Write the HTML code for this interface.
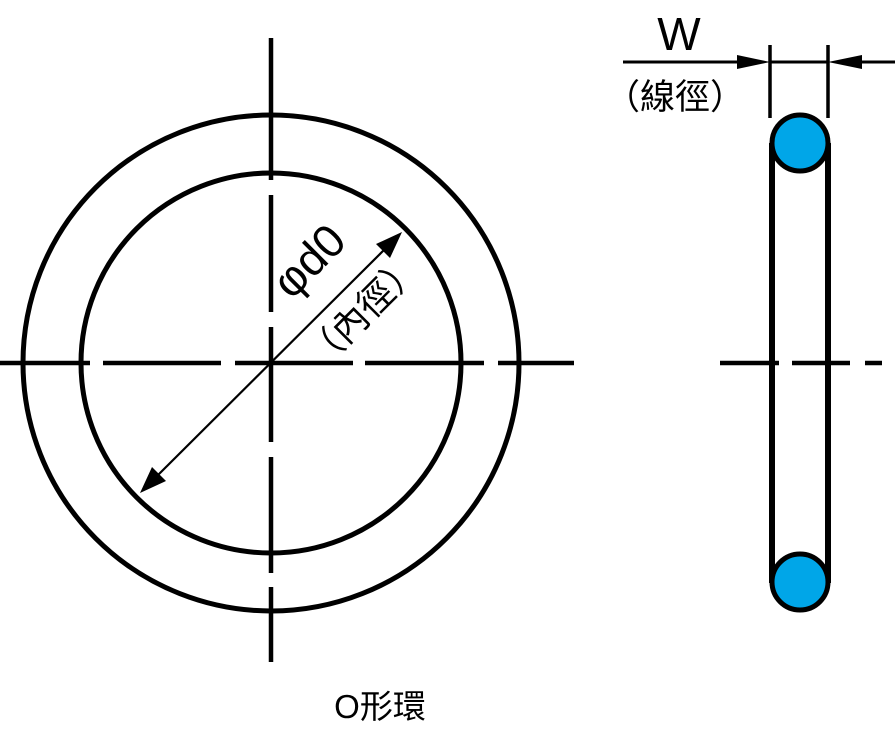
<!DOCTYPE html>
<html><head><meta charset="utf-8"><style>
html,body{margin:0;padding:0;background:#fff;}
svg{display:block;}
text{font-family:"Liberation Sans","Noto Sans CJK TC",sans-serif;}
</style></head><body>
<svg width="895" height="731" viewBox="0 0 895 731" xmlns="http://www.w3.org/2000/svg">
<g fill="none" stroke="#000">
<circle cx="271" cy="363" r="248" stroke-width="5"/>
<circle cx="271" cy="363" r="190" stroke-width="5"/>
<g stroke-width="4.5">
<line x1="0" y1="363" x2="90" y2="363"/>
<line x1="103" y1="363" x2="221" y2="363"/>
<line x1="235" y1="363" x2="353" y2="363"/>
<line x1="365" y1="363" x2="484" y2="363"/>
<line x1="498" y1="363" x2="574" y2="363"/>
<line x1="271" y1="38" x2="271" y2="180"/>
<line x1="271" y1="195" x2="271" y2="312"/>
<line x1="271" y1="327" x2="271" y2="442"/>
<line x1="271" y1="457" x2="271" y2="573"/>
<line x1="271" y1="587" x2="271" y2="662"/>
<line x1="720" y1="363" x2="779" y2="363"/>
<line x1="792" y1="363" x2="850" y2="363"/>
<line x1="865" y1="363" x2="882" y2="363"/>
</g>
<line x1="155" y1="478" x2="388" y2="246" stroke-width="2.2"/>
<line x1="772" y1="143" x2="772" y2="583" stroke-width="6"/>
<line x1="828" y1="143" x2="828" y2="583" stroke-width="6"/>
<line x1="770" y1="45" x2="770" y2="118" stroke-width="3.5"/>
<line x1="828" y1="45" x2="828" y2="118" stroke-width="3.5"/>
<line x1="623" y1="62" x2="745" y2="62" stroke-width="3"/>
<line x1="770" y1="62" x2="828" y2="62" stroke-width="3"/>
<line x1="855" y1="62" x2="895" y2="62" stroke-width="3"/>
</g>
<polygon points="402,232 390,258 376,244" fill="#000"/>
<polygon points="140,493 152,467 166,481" fill="#000"/>
<polygon points="770,62 737,55 737,69" fill="#000"/>
<polygon points="828,62 862,55 862,69" fill="#000"/>
<circle cx="800" cy="143" r="28" fill="#00a6e8" stroke="#000" stroke-width="5"/>
<circle cx="800" cy="582" r="28" fill="#00a6e8" stroke="#000" stroke-width="5"/>
<text x="679" y="50" font-size="46" text-anchor="middle">W</text>
<text x="675" y="109" font-size="35" text-anchor="middle">（線徑）</text>
<text transform="translate(320,272) rotate(-45)" font-size="46" text-anchor="middle">φd0</text>
<text transform="translate(372,320) rotate(-45)" font-size="36" text-anchor="middle">（內徑）</text>
<text x="380" y="718" font-size="33" text-anchor="middle">O形環</text>
</svg>
</body></html>
